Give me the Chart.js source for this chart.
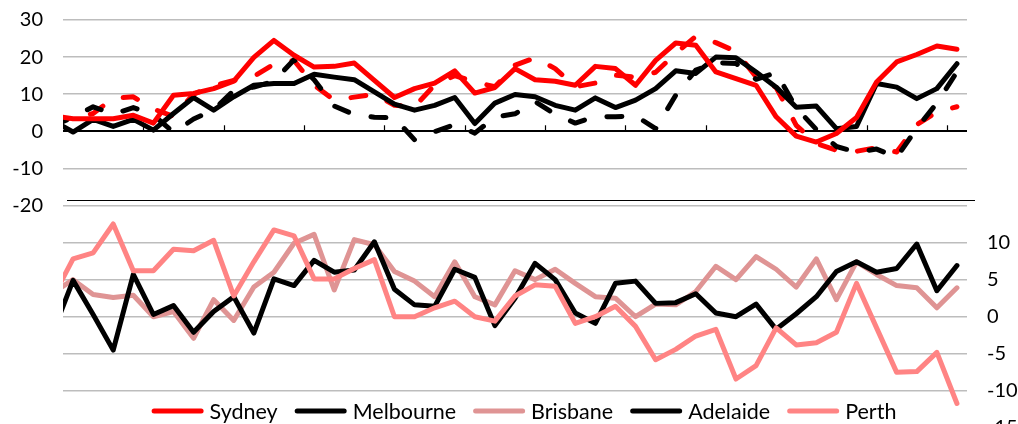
<!DOCTYPE html>
<html>
<head>
<meta charset="utf-8">
<title>Capital city series</title>
<script src="https://cdn.jsdelivr.net/npm/chart.js@4"></script>
<style>
  html, body { margin: 0; padding: 0; background: #fff; overflow: hidden; }
  #wrap { position: relative; width: 1018px; height: 440px; }
</style>
</head>
<body>
<div id="wrap"><canvas id="chart" width="1018" height="440"></canvas></div>
<script>
// Quarterly periods; the first one sits just before the visible window.
const quarters = Array.from({ length: 46 }, (_, i) => 'P' + i);

// Upper panel (left axis)
const sydney = [4.2, 3.4, 3.4, 3.4, 4.3, 2.2, 9.7, 10.2, 11.5, 13.5, 19.9, 24.5, 20.5, 17.3, 17.5, 18.4,
  13.7, 9.1, 11.5, 13.0, 16.3, 10.3, 11.8, 16.9, 13.9, 13.5, 12.4, 17.5, 16.9, 12.4, 19.1,
  23.8, 23.2, 16.0, 14.2, 12.4, 3.9, -1.3, -2.9, -0.6, 3.7, 13.3, 18.7, 20.7, 23.0, 22.1];
const melbourne = [2.8, -0.2, 3.2, 1.3, 3.2, 0.3, 4.8, 9.1, 5.7, 9.3, 12.4, 12.9, 12.9, 15.4, 14.6, 13.9,
  10.6, 7.3, 5.7, 7.0, 9.1, 2.1, 7.6, 9.9, 9.3, 7.0, 5.7, 9.0, 6.4, 8.4, 11.5,
  16.3, 15.6, 20.0, 19.8, 16.0, 11.9, 6.5, 6.8, 0.7, 1.3, 12.9, 11.9, 8.8, 11.5, 18.2];
const sydneyDashed = [3.0, 3.5, 4.8, 8.9, 9.3, 6.0, 4.0, 10.0, 12.3, 13.7, 14.8, 18.1, 19.1, 12.4, 8.4, 9.2,
  10.0, 7.0, 6.6, 12.5, 15.0, 13.3, 12.0, 17.8, 19.8, 16.9, 12.0, 13.0, 15.1, 14.6, 15.9,
  21.0, 25.6, 23.9, 21.5, 14.7, 11.8, 1.6, -3.3, -5.1, -5.4, -4.4, -5.6, 1.8, 5.2, 6.6];
const melbourneDashed = [1.5, 3.8, 6.6, 4.6, 6.4, 4.4, -0.3, 3.3, 5.8, 11.0, 11.9, 13.5, 19.3, 13.9, 6.8, 4.5,
  3.8, 3.6, -2.3, -0.1, 1.8, -0.5, 3.8, 4.7, 8.0, 4.6, 2.2, 4.0, 3.9, 4.2, 0.7,
  9.7, 16.5, 18.5, 18.3, 14.0, 15.8, 6.3, 0.5, -4.1, -5.6, -4.8, -7.0, 0.8, 7.6, 16.0];

// Lower panel (right axis)
const brisbane = [3.2, 5.0, 3.0, 2.6, 2.9, 0.0, 0.7, -2.9, 2.3, -0.5, 4.0, 6.0, 9.9, 11.1, 3.6, 10.4,
  9.7, 6.1, 4.8, 2.7, 7.4, 2.7, 1.6, 6.2, 5.0, 6.4, 4.5, 2.7, 2.5, 0.0, 1.7,
  1.6, 3.4, 6.8, 5.0, 8.1, 6.4, 4.0, 7.8, 2.3, 7.4, 5.7, 4.2, 3.9, 1.2, 3.9];
const adelaide = [-2.1, 4.9, 0.3, -4.5, 5.7, 0.3, 1.5, -2.1, 0.7, 2.7, -2.2, 5.1, 4.2, 7.6, 6.0, 6.3,
  10.1, 3.7, 1.6, 1.4, 6.4, 5.3, -1.2, 2.5, 7.2, 5.0, 0.5, -0.9, 4.5, 4.8, 1.8,
  1.9, 3.1, 0.5, 0.0, 1.7, -1.7, 0.4, 2.7, 6.1, 7.4, 6.0, 6.5, 9.8, 3.5, 6.9];
const perth = [2.6, 7.8, 8.6, 12.5, 6.2, 6.2, 9.1, 8.9, 10.3, 2.8, 7.4, 11.7, 10.9, 5.1, 5.1, 6.5,
  7.7, 0.0, 0.0, 1.2, 2.1, 0.0, -0.6, 2.8, 4.3, 4.1, -0.9, 0.0, 1.4, -1.3, -5.8,
  -4.4, -2.6, -1.7, -8.4, -6.6, -1.5, -3.8, -3.5, -2.1, 4.5, -1.5, -7.5, -7.4, -4.8, -11.7];

// Axis tick labels shown on each panel
const upperTicks = [30, 20, 10, 0, -10, -20];
const lowerTicks = [10, 5, 0, -5, -10, -15];
const lowerGrid = [10, 5, 0, -5, -10];

const RED = '#FF0000';
const BLACK = '#000000';
const DUSTY = '#DF9494';
const SALMON = '#FF8484';
const GRID = '#BDBDBD';
const FONT = 'Lato, "Open Sans", sans-serif';

function series(label, data, color, axis, opts) {
  return Object.assign({
    label, data,
    borderColor: color,
    backgroundColor: color,
    borderWidth: 5,
    pointRadius: 0,
    pointHoverRadius: 0,
    tension: 0,
    fill: false,
    borderJoinStyle: 'round',
    borderCapStyle: 'round',
    yAxisID: axis,
    clip: 0,
    inLegend: true
  }, opts || {});
}

const datasets = [
  series('Sydney (dashed)', sydneyDashed, RED, 'yTop', { borderDash: [15, 23], inLegend: false, order: 7 }),
  series('Melbourne (dashed)', melbourneDashed, BLACK, 'yTop', { borderDash: [15, 23], inLegend: false, order: 6 }),
  series('Sydney', sydney, RED, 'yTop', { order: 4 }),
  series('Melbourne', melbourne, BLACK, 'yTop', { order: 5 }),
  series('Brisbane', brisbane, DUSTY, 'yBot', { order: 3 }),
  series('Adelaide', adelaide, BLACK, 'yBot', { order: 2 }),
  series('Perth', perth, SALMON, 'yBot', { order: 1 })
];
const legendOrder = ['Sydney', 'Melbourne', 'Brisbane', 'Adelaide', 'Perth'];

// Year markers on the zero line and the rule closing the upper panel
const panelDecor = {
  id: 'panelDecor',
  beforeDatasetsDraw(chart) {
    const { ctx, chartArea, scales } = chart;
    const x = scales.x, yT = scales.yTop;
    const y0 = yT.getPixelForValue(0);
    ctx.save();
    ctx.strokeStyle = '#000';
    ctx.lineWidth = 1.2;
    for (let b = 4.5; b < 45; b += 4) {
      const px = Math.round(x.getPixelForValue(b)) + 0.5;
      ctx.beginPath();
      ctx.moveTo(px, y0);
      ctx.lineTo(px, y0 - 6);
      ctx.stroke();
    }
    const ySep = Math.round(yT.getPixelForValue(-20) - 5) + 0.5;
    ctx.beginPath();
    ctx.moveTo(chartArea.left + 4, ySep);
    ctx.lineTo(chartArea.right + 8, ySep);
    ctx.stroke();
    ctx.restore();
  },
  afterDraw(chart) {
    const { ctx } = chart;
    const items = legendOrder.map(name => chart.data.datasets.find(d => d.label === name && d.inLegend));
    ctx.save();
    ctx.font = '21.5px ' + FONT;
    ctx.textBaseline = 'middle';
    const sample = 47, gapText = 8, gapItem = 15;
    const widths = items.map(d => sample + 5 + gapText + ctx.measureText(d.label).width);
    const total = widths.reduce((a, b) => a + b, 0) + gapItem * (items.length - 1);
    const cy = 411;
    let cx = 525 - total / 2;
    items.forEach((d, i) => {
      ctx.strokeStyle = d.borderColor;
      ctx.lineWidth = 5;
      ctx.lineCap = 'round';
      ctx.beginPath();
      ctx.moveTo(cx + 2.5, cy);
      ctx.lineTo(cx + 2.5 + sample, cy);
      ctx.stroke();
      ctx.fillStyle = '#000';
      ctx.fillText(d.label, cx + sample + 5 + gapText - 2, cy + 1);
      cx += widths[i] + gapItem;
    });
    ctx.restore();
  }
};

new Chart(document.getElementById('chart'), {
  type: 'line',
  data: { labels: quarters, datasets },
  plugins: [panelDecor],
  options: {
    responsive: false,
    animation: false,
    events: [],
    layout: { padding: { top: 20, bottom: 12, left: 0, right: 0 } },
    plugins: { legend: { display: false }, tooltip: { enabled: false } },
    scales: {
      x: {
        type: 'category',
        min: quarters[1],
        max: quarters[45],
        offset: true,
        display: false
      },
      yTop: {
        position: 'left',
        min: -80,
        max: 30,
        border: { display: false },
        ticks: {
          stepSize: 10,
          autoSkip: false,
          padding: 20,
          color: '#000',
          font: { family: FONT, size: 20 },
          callback: v => upperTicks.includes(v) ? String(v) : ''
        },
        grid: {
          drawTicks: false,
          color: c => c.tick && c.tick.value === 0 ? '#000' : (upperTicks.includes(c.tick && c.tick.value) ? GRID : 'rgba(0,0,0,0)'),
          lineWidth: c => c.tick && c.tick.value === 0 ? 2 : 1.5
        },
        afterFit: s => { s.width = 63; s.paddingTop = 0; s.paddingBottom = 0; }
      },
      yBot: {
        position: 'right',
        min: -15,
        max: 40,
        border: { display: false },
        ticks: {
          stepSize: 5,
          autoSkip: false,
          padding: 20,
          color: '#000',
          font: { family: FONT, size: 20 },
          callback: v => lowerTicks.includes(v) ? String(v) : ''
        },
        grid: {
          drawTicks: false,
          color: c => lowerGrid.includes(c.tick && c.tick.value) ? GRID : 'rgba(0,0,0,0)',
          lineWidth: 1.5
        },
        afterFit: s => { s.width = 51; s.paddingTop = 0; s.paddingBottom = 0; }
      }
    }
  }
});
</script>
</body>
</html>
